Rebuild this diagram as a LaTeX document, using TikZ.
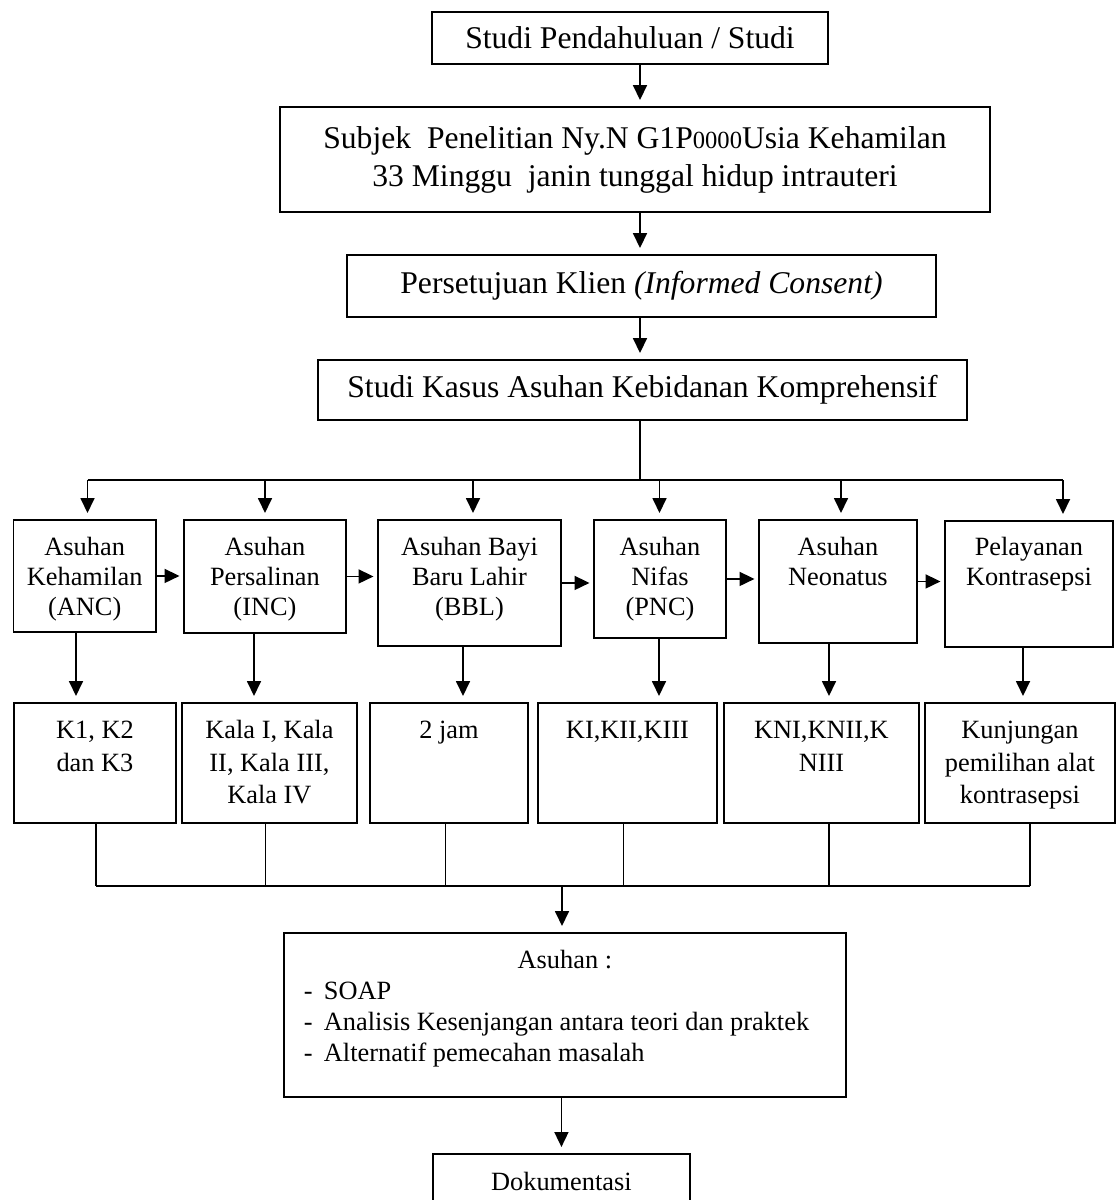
\documentclass[tikz,border=0pt]{standalone}
\usepackage{fontspec}
\setmainfont{Liberation Serif}
\usetikzlibrary{arrows.meta}

\begin{document}
\begin{tikzpicture}[
  x=0.02cm, y=-0.02cm,
  kotak/.style={draw=black, line width=1.1pt, anchor=north west, inner xsep=0pt, inner ysep=0pt, align=flush center, font={\fontsize{15}{17}\selectfont}},
  hasil/.style={kotak, font={\fontsize{15}{18.5}\selectfont}},
  besar/.style={draw=black, line width=1.1pt, anchor=center, inner sep=0pt, align=center, font={\fontsize{18}{21.6}\selectfont}},
  panah/.style={line width=1pt, -{Triangle[length=0.3cm, width=0.28cm]}, shorten >=0.12cm},
  garis/.style={line width=1pt},
  tipis/.style={line width=0.6pt}
]
\clip (0,0) rectangle (1116,1200);
\coordinate (poros) at (640,0);

\node[besar, minimum width=7.92cm, minimum height=1.04cm] (b1) at (630,38) {Studi Pendahuluan / Studi};
\node[besar, minimum width=14.2cm, minimum height=2.1cm] (b2) at (635,159.5) {Subjek~~Penelitian Ny.N G1P{\fontsize{14}{14}\selectfont 0000}Usia Kehamilan\\33 Minggu~~janin tunggal hidup intrauteri};
\node[besar, minimum width=11.78cm, minimum height=1.24cm] (b3) at (641.5,286) {Persetujuan Klien \textit{(Informed Consent)}};
\node[besar, minimum width=12.98cm, minimum height=1.2cm] (b4) at (642.5,390) {Studi Kasus Asuhan Kebidanan Komprehensif};

\node[kotak, text width=2.85cm, text height=0.72cm, text depth=1.52cm] (anc) at (12.5,519) {Asuhan\\Kehamilan\\(ANC)};
\node[kotak, text width=3.24cm, text height=0.72cm, text depth=1.54cm] (inc) at (183,519) {Asuhan\\Persalinan\\(INC)};
\node[kotak, text width=3.66cm, text height=0.72cm, text depth=1.80cm] (bbl) at (377,519) {Asuhan Bayi\\Baru Lahir\\(BBL)};
\node[kotak, text width=2.64cm, text height=0.72cm, text depth=1.64cm] (pnc) at (593,519) {Asuhan\\Nifas\\(PNC)};
\node[kotak, text width=3.16cm, text height=0.72cm, text depth=1.74cm] (neo) at (758,519) {Asuhan\\Neonatus};
\node[kotak, text width=3.36cm, text height=0.70cm, text depth=1.82cm] (kb) at (944,520) {Pelayanan\\Kontrasepsi};

\node[hasil, text width=3.24cm, text height=0.72cm, text depth=1.68cm] (k1) at (13,702) {K1, K2\\dan K3};
\node[hasil, text width=3.50cm, text height=0.72cm, text depth=1.68cm] (kala) at (181,702) {Kala I, Kala\\II, Kala III,\\Kala IV};
\node[hasil, text width=3.16cm, text height=0.72cm, text depth=1.68cm] (jam) at (369,702) {2 jam};
\node[hasil, text width=3.58cm, text height=0.72cm, text depth=1.68cm] (ki) at (537,702) {KI,KII,KIII};
\node[hasil, text width=3.90cm, text height=0.72cm, text depth=1.68cm] (kni) at (723,702) {KNI,KNII,K\\NIII};
\node[hasil, text width=3.80cm, text height=0.72cm, text depth=1.68cm] (kunj) at (924,702) {Kunjungan\\pemilihan alat\\kontrasepsi};

\node[kotak, align=flush left, inner xsep=0.4cm, text width=10.44cm, text height=0.72cm, text depth=2.56cm, font={\fontsize{15}{17.6}\selectfont}] (asuhan) at (283,932) {\makebox[10.44cm]{Asuhan :}\\
  \makebox[0.4cm][l]{-}SOAP\\
  \makebox[0.4cm][l]{-}Analisis Kesenjangan antara teori dan praktek\\
  \makebox[0.4cm][l]{-}Alternatif pemecahan masalah};
\node[kotak, text width=5.14cm, text height=0.74cm, text depth=1.0cm] (dok) at (432,1153) {Dokumentasi};

\draw[panah] (b1.south -| poros) -- (b2.north -| poros);
\draw[panah] (b2.south -| poros) -- (b3.north -| poros);
\draw[panah] (b3.south -| poros) -- (b4.north -| poros);

\foreach \n/\x in {anc/87.5, inc/265, bbl/473, pnc/659.5, neo/841, kb/1063}
  \coordinate (t-\n) at (\x,480);
\draw[garis] (b4.south -| poros) -- (t-anc -| poros);
\draw[garis] (t-anc) -- (t-kb);
\foreach \n in {anc, inc, bbl, pnc, neo, kb}
  \draw[panah] (t-\n) -- (t-\n |- \n.north);

\foreach \a/\b in {anc/inc, inc/bbl, bbl/pnc, pnc/neo, neo/kb}
  \draw[panah, shorten >=0.07cm] (\a.east) -- (\a.east -| \b.west);

\foreach \a/\b/\x in {anc/k1/76, inc/kala/254, bbl/jam/463, pnc/ki/659, neo/kni/829, kb/kunj/1023} {
  \coordinate (m-\b) at (\x,0);
  \draw[panah] (\a.south -| m-\b) -- (\b.north -| m-\b);
}

\foreach \b/\x in {k1/96, kala/265.5, jam/445.5, ki/623.5, kni/829, kunj/1030} {
  \coordinate (s-\b) at (\x,886);
  \draw[tipis] (\b.south -| s-\b) -- (s-\b);
}
\draw[garis] (s-k1) -- (s-kunj);
\coordinate (turun) at (562,886);
\draw[panah] (turun) -- (turun |- asuhan.north);
\draw[panah] (asuhan.south -| dok.north) -- (dok.north);
\end{tikzpicture}
\end{document}
